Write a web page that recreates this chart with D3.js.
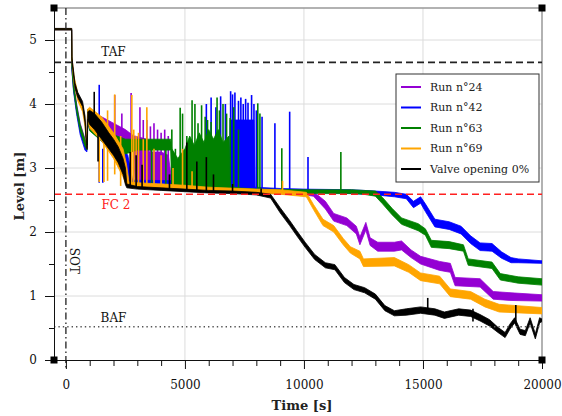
<!DOCTYPE html>
<html>
<head>
<meta charset="utf-8">
<script src="https://cdn.jsdelivr.net/npm/d3@7"></script>
<style>
  body { margin: 0; background: #fff; }
  text { font-family: "DejaVu Serif", serif; }
</style>
</head>
<body>
<div id="chart"></div>
<script>
const seriesNames = ["Run n°24", "Run n°42", "Run n°63", "Run n°69", "Valve opening 0%"];
const seriesColors = ["#9400d3", "#0000ff", "#008000", "#ffa500", "#000000"];

const xMajorTicks = [0, 5000, 10000, 15000, 20000];
const yMajorTicks = [0, 1, 2, 3, 4, 5];

const refLevels = { TAF: 4.65, FC2: 2.59, BAF: 0.52 };
const sotTime = 0;

// noise envelopes: [time, low, high]
const bandRun24 = [[-500,5.16,5.18],[240,5.16,5.18],[250,4.56,4.66],[320,4.24,4.34],[450,3.9,4.0],[600,3.6,3.7],[800,3.36,3.46],[890,3.28,3.34],[910,3.72,3.9],[1000,3.62,3.86],[1500,3.55,3.8],[2000,3.45,3.7],[2500,3.3,3.6],[2850,3.25,3.5],[2900,2.8,3.5],[3400,2.79,3.45],[3500,2.79,3.25],[4000,2.78,3.25],[4300,2.76,3.2],[4450,2.7,2.8],[5000,2.67,2.73],[6000,2.64,2.7],[8000,2.61,2.66],[10000,2.58,2.64],[10400,2.56,2.63],[10900,2.36,2.48],[11250,2.17,2.29],[11800,2.1,2.22],[12200,1.97,2.09],[12350,1.8,1.92],[12600,2.03,2.15],[12780,1.79,1.91],[13100,1.7,1.84],[13800,1.7,1.84],[14100,1.72,1.86],[14500,1.6,1.72],[14900,1.5,1.62],[15700,1.4,1.54],[16150,1.37,1.51],[16350,1.16,1.29],[17400,1.14,1.27],[17950,0.95,1.07],[18700,0.93,1.05],[20000,0.92,1.02]];
const bandRun42 = [[-500,5.16,5.18],[240,5.16,5.18],[250,4.54,4.62],[320,4.2,4.3],[450,3.84,3.94],[600,3.52,3.62],[800,3.28,3.38],[880,3.25,3.31],[910,3.7,3.88],[1000,3.6,3.82],[1500,3.42,3.68],[2000,3.2,3.5],[2600,2.8,3.2],[2800,2.76,2.81],[4900,2.75,2.8],[5500,2.7,2.76],[6000,2.68,2.74],[6850,2.66,2.72],[6900,2.66,3.75],[7900,2.64,3.75],[7950,2.64,2.7],[9000,2.63,2.68],[10000,2.62,2.67],[12000,2.6,2.66],[13000,2.58,2.64],[13800,2.55,2.62],[14300,2.52,2.59],[14600,2.38,2.48],[14900,2.45,2.55],[15100,2.32,2.44],[15500,2.08,2.2],[16100,2.04,2.16],[16600,1.97,2.09],[17000,1.82,1.94],[17400,1.71,1.83],[17900,1.7,1.82],[18300,1.59,1.69],[18700,1.52,1.6],[19000,1.52,1.58],[20000,1.51,1.55]];
const bandRun63 = [[-500,5.16,5.18],[240,5.16,5.18],[250,4.56,4.64],[320,4.23,4.33],[450,3.88,3.98],[600,3.58,3.68],[800,3.34,3.44],[890,3.28,3.34],[910,3.75,3.92],[1000,3.58,3.85],[1500,3.42,3.7],[2000,3.3,3.52],[2500,3.22,3.45],[3000,3.28,3.45],[4400,3.28,3.45],[4450,2.7,3.3],[4700,2.7,3.15],[5000,2.69,3.3],[5200,2.68,3.5],[5400,2.68,3.35],[5600,2.67,3.55],[5800,2.66,3.4],[6000,2.66,3.6],[6200,2.66,3.45],[6400,2.65,3.6],[6600,2.65,3.4],[6850,2.65,3.5],[6900,2.64,2.7],[8000,2.62,2.67],[10000,2.6,2.66],[12000,2.6,2.66],[12500,2.59,2.65],[13000,2.56,2.64],[13300,2.44,2.54],[13700,2.27,2.37],[14100,2.12,2.22],[14800,2.02,2.13],[15100,1.95,2.05],[15350,1.76,1.87],[16100,1.74,1.85],[16700,1.7,1.8],[16900,1.48,1.58],[17900,1.43,1.53],[18250,1.25,1.35],[19000,1.2,1.3],[20000,1.17,1.27]];
const bandRun69 = [[-500,5.16,5.18],[240,5.16,5.18],[250,4.66,4.74],[350,4.3,4.42],[500,4.05,4.17],[700,3.88,3.98],[800,3.65,3.8],[880,3.3,3.4],[910,3.75,3.92],[1000,3.62,3.95],[1500,3.42,3.8],[2000,3.15,3.55],[2400,2.86,3.3],[2550,2.72,3.05],[2650,2.7,2.78],[3000,2.69,2.77],[4000,2.67,2.75],[5000,2.66,2.73],[6000,2.64,2.7],[8000,2.61,2.67],[9000,2.59,2.66],[10100,2.55,2.62],[10400,2.35,2.43],[10800,2.1,2.2],[11250,2.0,2.1],[11650,1.8,1.9],[11950,1.67,1.77],[12350,1.58,1.7],[12500,1.46,1.58],[13800,1.47,1.6],[14400,1.37,1.49],[14900,1.24,1.36],[15700,1.19,1.31],[16150,0.99,1.11],[17000,0.95,1.07],[17600,0.83,0.95],[18200,0.75,0.87],[20000,0.72,0.82]];
const bandValve = [[-500,5.16,5.18],[240,5.16,5.18],[250,4.68,4.74],[380,4.25,4.33],[500,4.1,4.18],[700,3.96,4.04],[800,3.72,3.82],[870,3.3,3.38],[900,3.3,3.36],[920,3.76,3.88],[1000,3.68,3.9],[1200,3.6,3.85],[1500,3.45,3.72],[1800,3.3,3.55],[2000,3.2,3.45],[2200,3.08,3.33],[2400,2.9,3.15],[2500,2.74,3.0],[2560,2.69,2.75],[3000,2.67,2.71],[4000,2.65,2.69],[5000,2.63,2.67],[6000,2.61,2.65],[7000,2.6,2.64],[8000,2.58,2.62],[8600,2.53,2.59],[9000,2.3,2.38],[9400,2.1,2.18],[9700,1.94,2.02],[10050,1.76,1.84],[10450,1.57,1.65],[10900,1.44,1.52],[11300,1.41,1.49],[11700,1.21,1.29],[12100,1.1,1.18],[12550,1.05,1.13],[13000,0.95,1.03],[13400,0.77,0.85],[13800,0.69,0.77],[14300,0.7,0.8],[14900,0.73,0.83],[15500,0.7,0.8],[15900,0.65,0.75],[16500,0.7,0.8],[17000,0.68,0.78],[17400,0.61,0.71],[17800,0.53,0.63],[18150,0.43,0.51],[18450,0.35,0.43],[18650,0.48,0.56],[18850,0.58,0.66],[19080,0.4,0.48],[19300,0.38,0.46],[19500,0.58,0.66],[19720,0.33,0.41],[19900,0.58,0.66],[20000,0.6,0.64]];

// single spikes: [time, from, to]
const spikesRun24 = [[2050,3.4,4.14],[2350,3.3,3.85],[2740,2.8,4.17],[3110,2.8,3.95],[3250,2.75,3.75],[3400,2.75,3.75],[3550,2.76,3.65],[3700,2.76,3.7],[3850,2.75,3.6],[4000,2.75,3.55],[4150,2.74,3.6],[4300,2.72,3.5]];
const spikesRun42 = [[1400,2.77,4.3],[1550,2.77,3.3],[5900,2.67,4.0],[6100,2.67,4.1],[6300,2.66,3.95],[6500,2.66,4.12],[6700,2.66,4.0],[6920,2.66,4.2],[7000,2.66,4.15],[7100,2.66,4.18],[7250,2.65,4.05],[7350,2.65,4.1],[7450,2.65,4.0],[7550,2.65,4.08],[7650,2.65,4.02],[7800,2.64,4.14],[7900,2.64,4.0],[8000,2.64,3.9],[8240,2.63,3.8],[8780,2.63,3.7],[9400,2.62,3.88],[10170,2.62,3.17]];
const spikesRun63 = [[3600,2.75,3.44],[4200,2.72,3.4],[4450,2.7,3.6],[4600,2.7,3.3],[4800,2.7,3.94],[4900,2.7,3.85],[5080,2.69,3.5],[5300,2.68,4.06],[5420,2.68,4.0],[5550,2.67,3.7],[5700,2.67,3.98],[5850,2.66,3.8],[5950,2.66,3.75],[6100,2.66,3.72],[6350,2.65,4.1],[6450,2.65,3.9],[6600,2.65,4.0],[6750,2.65,3.85],[6900,2.64,3.78],[7050,2.64,3.95],[7250,2.64,3.6],[8060,2.62,4.01],[8150,2.62,3.85],[9070,2.6,3.31],[11550,2.62,3.25]];
const spikesRun69 = [[1400,2.78,3.6],[1600,2.78,3.7],[1750,2.8,3.9],[2050,2.9,4.15],[2300,2.72,3.5],[2770,2.7,4.14],[2850,2.7,3.6],[2950,2.7,3.5],[3050,2.7,3.55],[3250,2.7,3.45],[3400,2.68,3.95],[3700,2.68,3.3],[4000,2.67,3.2],[4500,2.66,3.0],[4900,2.65,3.3],[5300,2.65,2.95],[9100,2.6,2.8]];
const spikesValve = [[1190,3.8,4.19],[1350,3.1,3.7],[2700,2.7,3.25],[2950,2.69,3.2],[3200,2.68,3.05],[4350,2.66,2.9],[5080,2.64,3.4],[5500,2.63,3.1],[5900,2.62,3.17],[6200,2.61,2.9],[7000,2.6,2.75],[8200,2.58,2.68],[15200,0.72,0.97],[17100,0.6,0.8],[18900,0.58,0.86]];

const bands = [bandRun24, bandRun42, bandRun63, bandRun69, bandValve];
const spikes = [spikesRun24, spikesRun42, spikesRun63, spikesRun69, spikesValve];

const margin = { top: 8, right: 20, bottom: 56, left: 54 };
const width = 562 - margin.left - margin.right;
const height = 416 - margin.top - margin.bottom;

const svg = d3
  .select("#chart")
  .append("svg")
  .attr("width", 562)
  .attr("height", 416);

const xScale = d3.scaleLinear().domain([-500, 20000]).range([0, width]);
const yScale = d3.scaleLinear().domain([0, 5.5]).range([height, 0]);

const chart = svg
  .append("g")
  .attr("transform", `translate(${margin.left}, ${margin.top})`);

chart
  .append("defs")
  .append("clipPath")
  .attr("id", "plot-clip")
  .append("rect")
  .attr("width", width)
  .attr("height", height);

// grid
chart
  .append("g")
  .selectAll("line")
  .data(xMajorTicks.slice(1, -1))
  .enter()
  .append("line")
  .attr("x1", (d) => xScale(d))
  .attr("x2", (d) => xScale(d))
  .attr("y1", 0)
  .attr("y2", height)
  .attr("stroke", "#dcdcdc")
  .attr("stroke-width", 1);

chart
  .append("g")
  .selectAll("line")
  .data(yMajorTicks.slice(1))
  .enter()
  .append("line")
  .attr("x1", 0)
  .attr("x2", width)
  .attr("y1", (d) => yScale(d))
  .attr("y2", (d) => yScale(d))
  .attr("stroke", "#dcdcdc")
  .attr("stroke-width", 1);

// top and right frame
chart
  .append("path")
  .attr("d", `M0,0H${width}V${height}`)
  .attr("fill", "none")
  .attr("stroke", "#999")
  .attr("stroke-width", 1.5);

const plot = chart.append("g").attr("clip-path", "url(#plot-clip)");

const area = d3
  .area()
  .x((d) => xScale(d[0]))
  .y0((d) => yScale(d[1]))
  .y1((d) => yScale(d[2]));

bands.forEach((band, i) => {
  const g = plot.append("g");
  g.append("path")
    .attr("d", area(band))
    .attr("fill", seriesColors[i])
    .attr("stroke", seriesColors[i])
    .attr("stroke-width", 0.8)
    .attr("stroke-linejoin", "round");

  g.selectAll("line")
    .data(spikes[i])
    .enter()
    .append("line")
    .attr("x1", (d) => xScale(d[0]))
    .attr("x2", (d) => xScale(d[0]))
    .attr("y1", (d) => yScale(d[1]))
    .attr("y2", (d) => yScale(d[2]))
    .attr("stroke", seriesColors[i])
    .attr("stroke-width", 1.6);
});

// reference lines
plot
  .append("line")
  .attr("x1", 0)
  .attr("x2", width)
  .attr("y1", yScale(refLevels.TAF))
  .attr("y2", yScale(refLevels.TAF))
  .attr("stroke", "#222")
  .attr("stroke-width", 1.6)
  .attr("stroke-dasharray", "7,4");

plot
  .append("line")
  .attr("x1", 0)
  .attr("x2", width)
  .attr("y1", yScale(refLevels.FC2))
  .attr("y2", yScale(refLevels.FC2))
  .attr("stroke", "#ff2020")
  .attr("stroke-width", 1.6)
  .attr("stroke-dasharray", "7,4");

plot
  .append("line")
  .attr("x1", 0)
  .attr("x2", width)
  .attr("y1", yScale(refLevels.BAF))
  .attr("y2", yScale(refLevels.BAF))
  .attr("stroke", "#555")
  .attr("stroke-width", 1.4)
  .attr("stroke-dasharray", "1.4,3");

chart
  .append("line")
  .attr("x1", xScale(sotTime))
  .attr("x2", xScale(sotTime))
  .attr("y1", 0)
  .attr("y2", height + 8)
  .attr("stroke", "#222")
  .attr("stroke-width", 1.3)
  .attr("stroke-dasharray", "7,3,1.5,3");

const refLabel = (txt, x, y, color) =>
  chart
    .append("text")
    .attr("x", x)
    .attr("y", y)
    .attr("text-anchor", "middle")
    .attr("font-size", 12)
    .attr("fill", color)
    .text(txt);

refLabel("TAF", xScale(2000), yScale(refLevels.TAF) - 6, "#111");
refLabel("FC 2", xScale(2100), yScale(refLevels.FC2) + 15, "#ff2020");
refLabel("BAF", xScale(2000), yScale(refLevels.BAF) - 5, "#111");

chart
  .append("text")
  .attr("transform", `translate(${xScale(sotTime) + 4}, ${yScale(1.55)}) rotate(90)`)
  .attr("text-anchor", "middle")
  .attr("font-size", 12)
  .attr("fill", "#111")
  .text("SOT");

// axes
chart
  .append("g")
  .attr("transform", `translate(0, ${height})`)
  .call(d3.axisBottom(xScale).tickValues(xMajorTicks).tickFormat(d3.format("d")).tickSize(9).tickPadding(11).tickSizeOuter(0));
chart
  .append("g")
  .attr("transform", `translate(0, ${height})`)
  .call(d3.axisBottom(xScale).tickValues(d3.range(1000, 20000, 1000).filter((d) => d % 5000)).tickSize(6).tickFormat("").tickSizeOuter(0));

chart
  .append("g")
  .call(d3.axisLeft(yScale).tickValues(yMajorTicks).tickFormat(d3.format("d")).tickSize(9).tickPadding(8).tickSizeOuter(0));
chart
  .append("g")
  .call(d3.axisLeft(yScale).tickValues([0.5, 1.5, 2.5, 3.5, 4.5]).tickSize(5).tickFormat("").tickSizeOuter(0));

chart.selectAll(".tick text").attr("font-family", "DejaVu Serif").attr("font-size", 12).attr("fill", "#111");
chart.selectAll(".domain").attr("stroke", "#111");
chart.selectAll(".tick line").attr("stroke", "#111");

// corner markers
const corners = [[-500, 0], [20000, 0], [-500, 5.5], [20000, 5.5]];
chart
  .selectAll("rect.corner")
  .data(corners)
  .enter()
  .append("rect")
  .attr("class", "corner")
  .attr("x", (d) => xScale(d[0]) - 3.5)
  .attr("y", (d) => yScale(d[1]) - 3.5)
  .attr("width", 7)
  .attr("height", 7)
  .attr("fill", "#000");

// axis titles
svg
  .append("text")
  .attr("x", margin.left + width / 2 + 4)
  .attr("y", 410)
  .attr("text-anchor", "middle")
  .attr("font-size", 13)
  .attr("font-weight", "bold")
  .attr("fill", "#222")
  .text("Time [s]");

svg
  .append("text")
  .attr("transform", "rotate(-90)")
  .attr("x", -186)
  .attr("y", 24)
  .attr("text-anchor", "middle")
  .attr("font-size", 13)
  .attr("font-weight", "bold")
  .attr("fill", "#222")
  .text("Level [m]");

// legend
const legend = svg.append("g").attr("transform", "translate(396, 74)");
legend
  .append("rect")
  .attr("width", 143)
  .attr("height", 108)
  .attr("fill", "#fff")
  .attr("stroke", "#333")
  .attr("stroke-width", 1);

const rowStep = 20.5;
legend
  .selectAll("line.key")
  .data(seriesNames)
  .enter()
  .append("line")
  .attr("class", "key")
  .attr("x1", 5)
  .attr("x2", 25)
  .attr("y1", (d, i) => 13 + i * rowStep)
  .attr("y2", (d, i) => 13 + i * rowStep)
  .attr("stroke", (d, i) => seriesColors[i])
  .attr("stroke-width", 2);

legend
  .selectAll("text.key")
  .data(seriesNames)
  .enter()
  .append("text")
  .attr("class", "key")
  .attr("x", 34)
  .attr("y", (d, i) => 13 + i * rowStep)
  .attr("dy", "0.35em")
  .attr("font-size", 11)
  .attr("fill", "#222")
  .text((d) => d);
</script>
</body>
</html>
